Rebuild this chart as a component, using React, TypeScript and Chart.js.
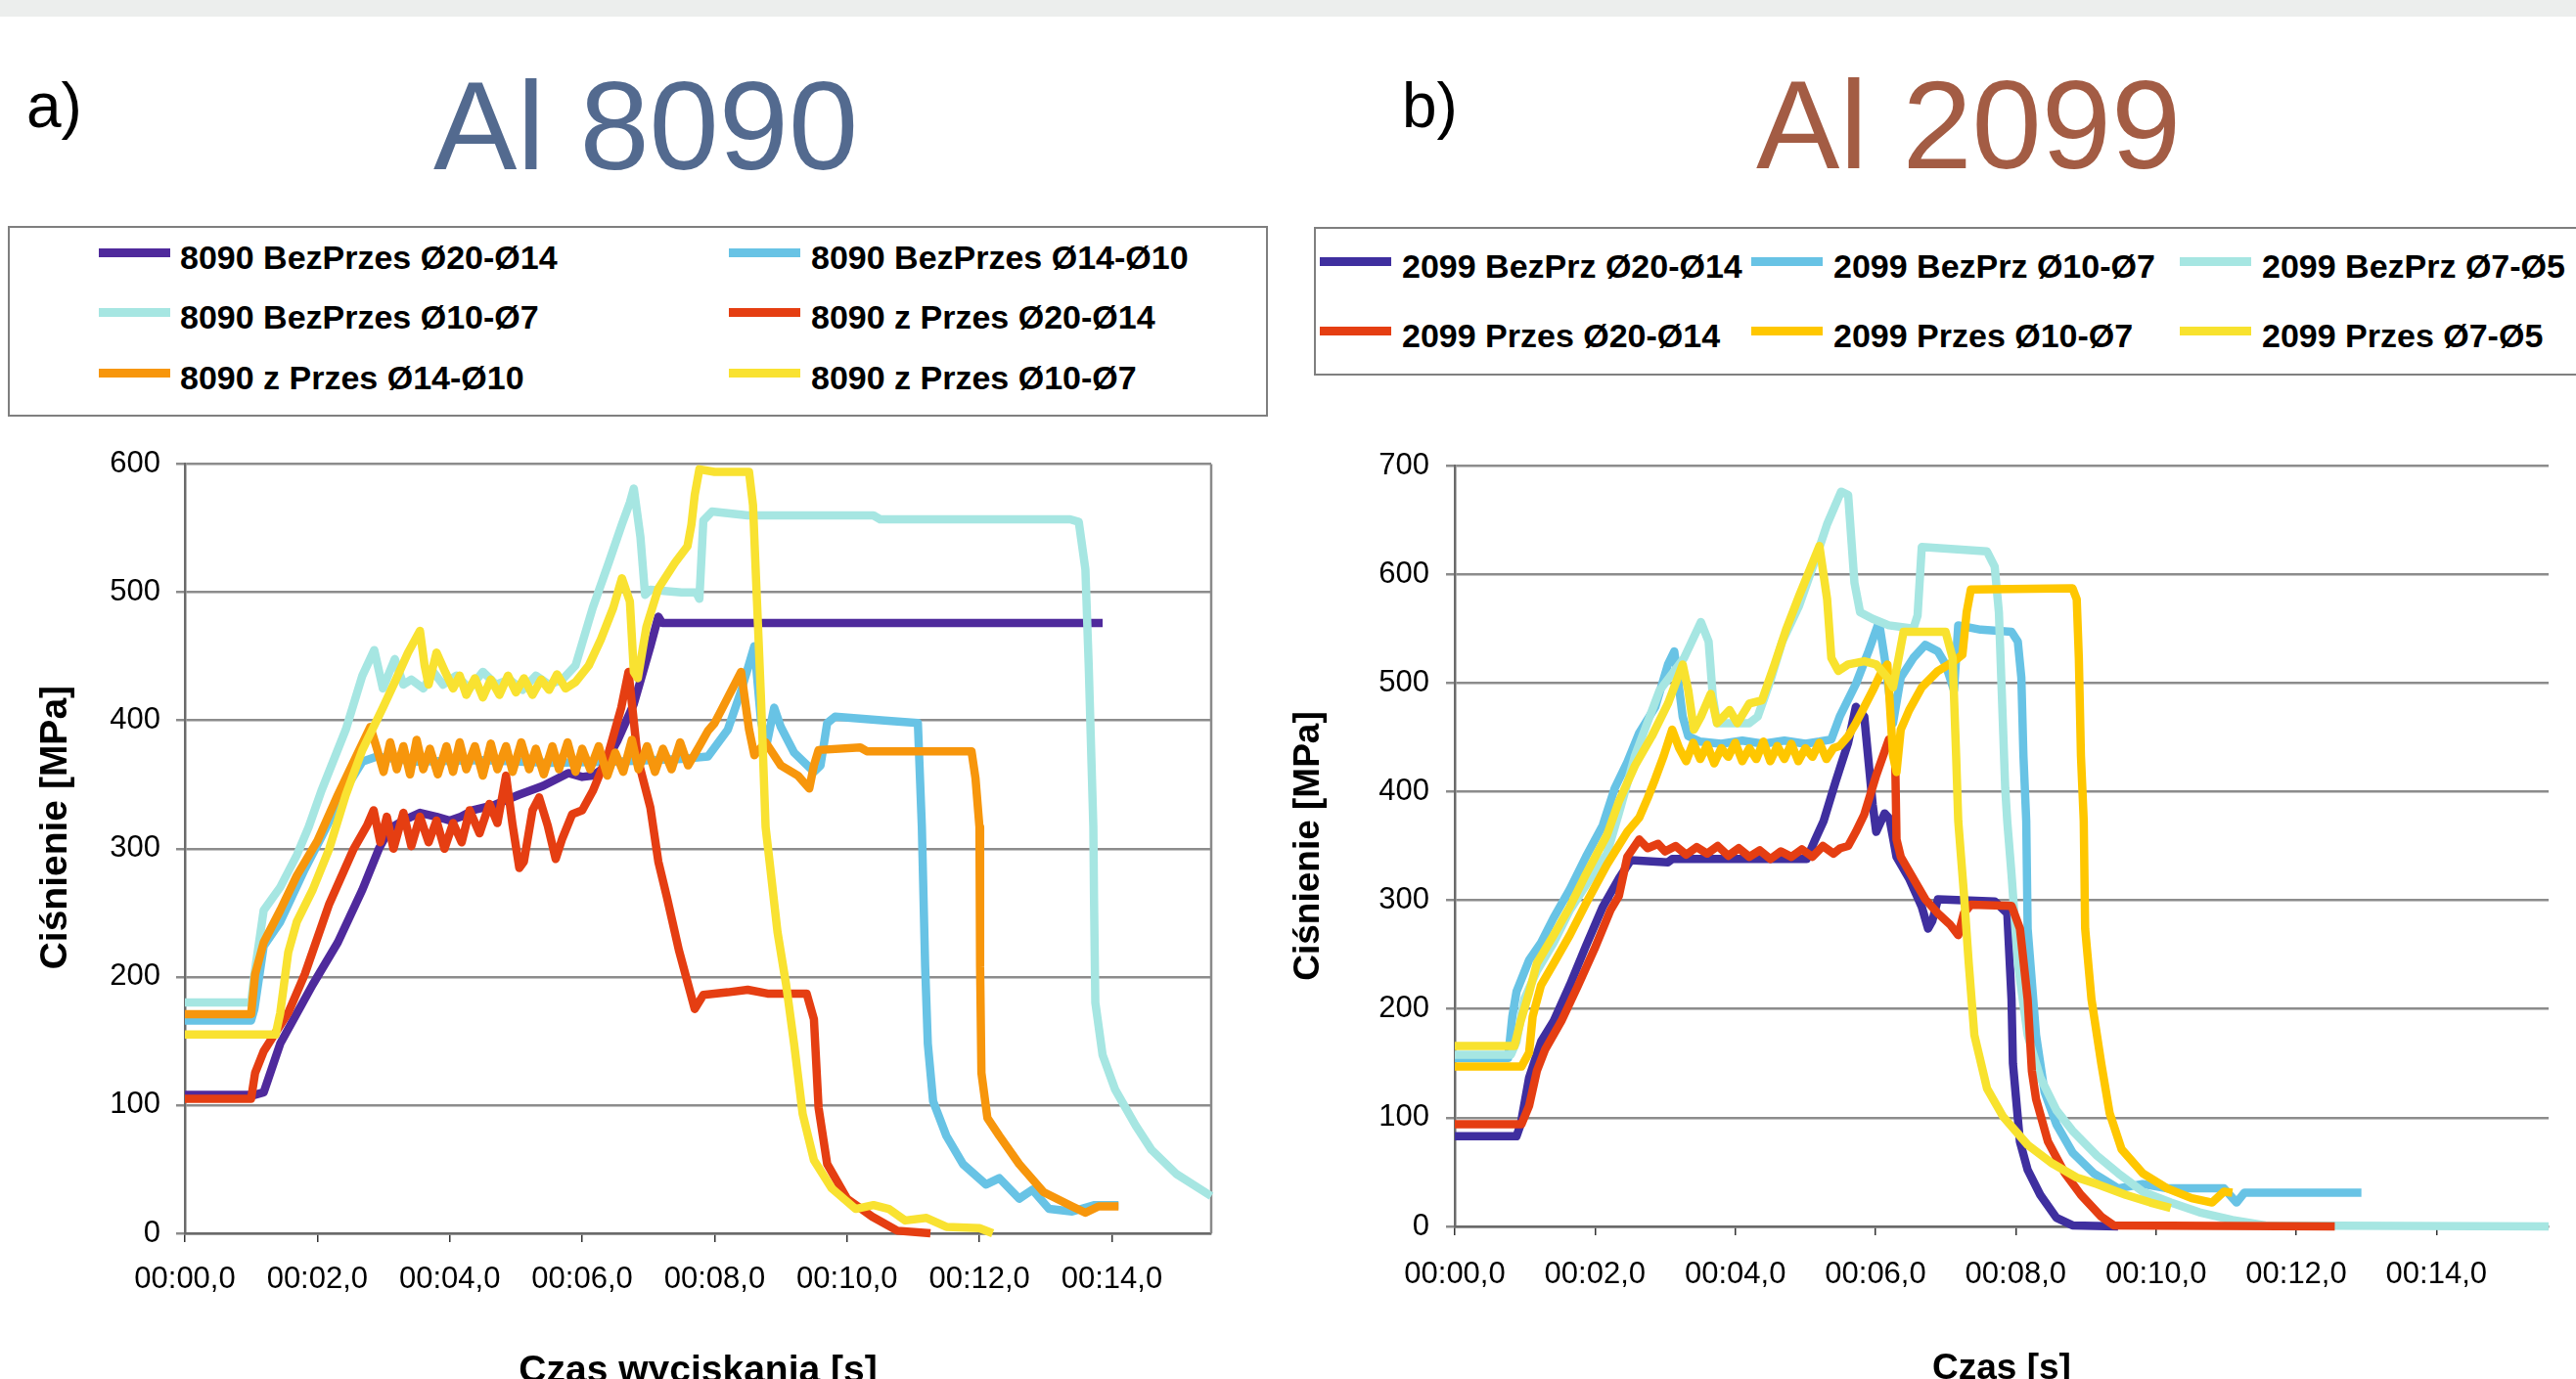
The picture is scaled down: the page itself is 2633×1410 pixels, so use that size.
import React, { useEffect, useRef } from 'react';
import { Chart, registerables } from 'chart.js';

Chart.register(...registerables);

const FONT = '"Liberation Sans", Arial, Helvetica, sans-serif';

type Pt = [number, number];

// ---------- tick labels ----------
const X_TICK_VALUES = [0, 2, 4, 6, 8, 10, 12, 14];
const X_TICK_LABELS = ['00:00,0', '00:02,0', '00:04,0', '00:06,0', '00:08,0', '00:10,0', '00:12,0', '00:14,0'];
const Y_TICKS_8090 = [0, 100, 200, 300, 400, 500, 600];
const Y_TICKS_2099 = [0, 100, 200, 300, 400, 500, 600, 700];

// ---------- Al 8090 series: [time s, pressure MPa] ----------
const S8090_BEZ_20_14: Pt[] = [
  [0, 108], [1.06, 108], [1.19, 110], [1.44, 148], [1.93, 194], [2.31, 227], [2.68, 268], [2.93, 300], [3.1, 316],
  [3.3, 322], [3.55, 328], [3.8, 325], [4.0, 322], [4.17, 325], [4.35, 330], [4.67, 334], [5.04, 342], [5.41, 349],
  [5.79, 359], [6.0, 356], [6.16, 357], [6.3, 362], [6.53, 384], [6.78, 413], [7.03, 458], [7.15, 481], [7.21, 476],
  [13.86, 476],
];
const S8090_BEZ_14_10: Pt[] = [
  [0, 166], [1.0, 166], [1.05, 175], [1.19, 224], [1.44, 243], [1.81, 284], [2.06, 309], [2.43, 347], [2.68, 368],
  [2.9, 372], [3.5, 368], [4.5, 369], [5.5, 367], [6.5, 368], [7.5, 370], [7.9, 372], [8.2, 393], [8.4, 423],
  [8.6, 458], [8.7, 400], [8.78, 380], [8.9, 410], [9.0, 395], [9.2, 375], [9.5, 360], [9.6, 365], [9.7, 398],
  [9.82, 403], [10.57, 400], [11.07, 398], [11.13, 317], [11.18, 208], [11.22, 148], [11.3, 103], [11.5, 76],
  [11.75, 54], [12.1, 38], [12.3, 43], [12.6, 27], [12.8, 34], [13.05, 19], [13.4, 17], [13.74, 22], [14.1, 22],
];
const S8090_BEZ_10_7: Pt[] = [
  [0, 180], [1.0, 180], [1.05, 202], [1.19, 252], [1.44, 270], [1.69, 295], [1.87, 317], [2.06, 345], [2.43, 393],
  [2.68, 435], [2.86, 455], [2.99, 425], [3.17, 448], [3.3, 428], [3.42, 432], [3.6, 425], [3.75, 438], [3.9, 428],
  [4.1, 435], [4.3, 425], [4.5, 438], [4.7, 428], [4.9, 432], [5.1, 424], [5.3, 435], [5.5, 428], [5.7, 432],
  [5.9, 443], [6.16, 488], [6.4, 523], [6.6, 553], [6.72, 570], [6.78, 581], [6.88, 543], [6.95, 498], [7.03, 502],
  [7.5, 500], [7.72, 500], [7.77, 495], [7.83, 556], [7.96, 563], [8.5, 560], [10.4, 560], [10.5, 557],
  [13.37, 557], [13.5, 555], [13.6, 518], [13.65, 443], [13.72, 317], [13.73, 262], [13.75, 180], [13.86, 139],
  [14.05, 112], [14.36, 84], [14.6, 65], [14.98, 46], [15.5, 29],
];
const S8090_Z_20_14: Pt[] = [
  [0, 105], [1.0, 105], [1.06, 125], [1.19, 142], [1.56, 172], [1.81, 202], [2.18, 257], [2.55, 300], [2.75, 318],
  [2.85, 330], [2.95, 305], [3.05, 325], [3.15, 300], [3.3, 328], [3.42, 302], [3.55, 325], [3.68, 305], [3.8, 322],
  [3.92, 300], [4.05, 320], [4.18, 305], [4.3, 330], [4.45, 312], [4.6, 335], [4.72, 320], [4.85, 357], [4.95, 318],
  [5.05, 285], [5.12, 290], [5.25, 330], [5.35, 340], [5.48, 318], [5.6, 292], [5.7, 308], [5.85, 327], [6.0, 330],
  [6.16, 345], [6.4, 375], [6.59, 410], [6.7, 438], [6.84, 370], [7.03, 332], [7.15, 290], [7.28, 262], [7.46, 221],
  [7.7, 175], [7.83, 186], [8.2, 188], [8.5, 190], [8.8, 187], [9.39, 187], [9.5, 167], [9.57, 98], [9.7, 54],
  [10.0, 27], [10.38, 13], [10.76, 2], [11.26, 0],
];
const S8090_Z_14_10: Pt[] = [
  [0, 171], [1.0, 171], [1.06, 202], [1.19, 227], [1.44, 252], [1.69, 279], [2.0, 306], [2.31, 342], [2.55, 368],
  [2.8, 395], [2.9, 378], [3.0, 360], [3.1, 383], [3.2, 362], [3.3, 380], [3.4, 358], [3.5, 385], [3.6, 362],
  [3.7, 378], [3.82, 358], [3.95, 380], [4.05, 360], [4.15, 383], [4.25, 362], [4.38, 380], [4.5, 357], [4.62, 382],
  [4.72, 362], [4.85, 380], [4.95, 360], [5.08, 383], [5.2, 362], [5.3, 378], [5.42, 358], [5.55, 380], [5.65, 362],
  [5.78, 383], [5.9, 360], [6.0, 378], [6.12, 362], [6.25, 380], [6.38, 357], [6.5, 375], [6.62, 360], [6.75, 385],
  [6.85, 362], [6.98, 380], [7.1, 360], [7.22, 378], [7.35, 362], [7.48, 383], [7.6, 365], [7.77, 380], [7.9, 392],
  [8.0, 398], [8.2, 418], [8.4, 438], [8.52, 393], [8.6, 373], [8.77, 383], [9.0, 365], [9.26, 357], [9.43, 347],
  [9.5, 365], [9.57, 377], [10.2, 379], [10.3, 376], [11.88, 376], [11.94, 355], [12.0, 317], [12.01, 208],
  [12.03, 125], [12.12, 90], [12.3, 76], [12.6, 54], [12.97, 32], [13.4, 21], [13.6, 16], [13.8, 21], [14.1, 21],
];
const S8090_Z_10_7: Pt[] = [
  [0, 155], [1.37, 155], [1.44, 172], [1.56, 219], [1.69, 243], [1.93, 268], [2.18, 300], [2.43, 342], [2.68, 377],
  [2.99, 410], [3.17, 430], [3.37, 453], [3.55, 470], [3.62, 443], [3.68, 428], [3.8, 453], [3.93, 438], [4.05, 425],
  [4.15, 435], [4.25, 420], [4.38, 433], [4.5, 418], [4.62, 432], [4.75, 420], [4.88, 435], [5.0, 422], [5.12, 433],
  [5.25, 420], [5.38, 432], [5.5, 424], [5.62, 436], [5.75, 425], [5.9, 430], [6.1, 443], [6.28, 463], [6.47, 488],
  [6.6, 511], [6.72, 493], [6.78, 438], [6.84, 433], [6.97, 473], [7.15, 503], [7.4, 523], [7.59, 536], [7.65, 553],
  [7.7, 576], [7.77, 596], [8.0, 594], [8.52, 594], [8.58, 568], [8.64, 493], [8.7, 418], [8.77, 317], [8.83, 290],
  [8.95, 235], [9.08, 194], [9.2, 148], [9.33, 93], [9.5, 57], [9.77, 35], [10.13, 19], [10.4, 22], [10.63, 19],
  [10.88, 10], [11.2, 12], [11.5, 5], [12.0, 4], [12.2, 0],
];

// ---------- Al 2099 series ----------
const S2099_BEZ_20_14: Pt[] = [
  [0, 83], [0.88, 83], [0.94, 94], [1.06, 137], [1.23, 170], [1.41, 189], [1.64, 222], [1.87, 258], [2.11, 294],
  [2.34, 320], [2.51, 337], [3.04, 335], [3.1, 338], [5.02, 338], [5.14, 356], [5.26, 373], [5.43, 409], [5.61, 445],
  [5.72, 478], [5.84, 469], [5.96, 388], [6.01, 363], [6.13, 380], [6.2, 375], [6.3, 340], [6.48, 320], [6.66, 294],
  [6.75, 274], [6.81, 281], [6.89, 301], [7.7, 299], [7.88, 288], [7.94, 209], [7.96, 150], [8.06, 78], [8.17, 52],
  [8.35, 29], [8.58, 8], [8.81, 1], [9.46, 0],
];
const S2099_BEZ_10_7: Pt[] = [
  [0, 155], [0.76, 155], [0.82, 193], [0.88, 216], [1.06, 245], [1.23, 261], [1.41, 284], [1.64, 310], [1.87, 340],
  [2.11, 369], [2.28, 403], [2.46, 427], [2.63, 454], [2.86, 478], [3.04, 517], [3.13, 529], [3.18, 505], [3.25, 469],
  [3.33, 451], [3.5, 446], [3.8, 444], [4.1, 447], [4.4, 444], [4.7, 447], [5.0, 444], [5.2, 446], [5.37, 448],
  [5.49, 469], [5.72, 499], [5.9, 529], [6.05, 556], [6.13, 523], [6.19, 493], [6.25, 463], [6.36, 505], [6.54, 523],
  [6.71, 535], [6.89, 529], [7.0, 517], [7.12, 493], [7.18, 553], [7.5, 549], [7.94, 547], [8.03, 538], [8.08, 505],
  [8.11, 433], [8.15, 373], [8.17, 274], [8.23, 225], [8.29, 176], [8.41, 124], [8.58, 94], [8.81, 68], [9.11, 49],
  [9.46, 35], [9.81, 39], [10.16, 35], [10.97, 35], [11.15, 22], [11.26, 31], [12.93, 31],
];
const S2099_BEZ_7_5: Pt[] = [
  [0, 158], [0.8, 158], [0.88, 170], [0.99, 209], [1.17, 235], [1.41, 261], [1.64, 291], [1.93, 320], [2.17, 343],
  [2.34, 380], [2.57, 433], [2.92, 493], [3.27, 523], [3.51, 556], [3.62, 538], [3.68, 487], [3.74, 463], [3.97, 463],
  [4.2, 463], [4.32, 469], [4.5, 502], [4.67, 538], [4.91, 571], [5.14, 613], [5.31, 646], [5.51, 676], [5.61, 673],
  [5.66, 628], [5.7, 592], [5.78, 565], [5.96, 559], [6.19, 553], [6.54, 550], [6.6, 562], [6.66, 625], [7.59, 621],
  [7.7, 607], [7.76, 565], [7.8, 493], [7.85, 403], [7.88, 372], [7.94, 324], [8.03, 242], [8.17, 176], [8.35, 137],
  [8.58, 107], [8.81, 88], [9.16, 65], [9.46, 49], [9.81, 32], [10.21, 22], [10.62, 13], [11.09, 6], [11.56, 1],
  [15.6, 0],
];
const S2099_PRZ_20_14: Pt[] = [
  [0, 94], [0.95, 94], [1.06, 111], [1.17, 143], [1.29, 163], [1.52, 189], [1.76, 222], [1.99, 255], [2.22, 291],
  [2.34, 304], [2.46, 340], [2.63, 356], [2.75, 348], [2.9, 352], [3.0, 345], [3.15, 350], [3.3, 342], [3.45, 349],
  [3.6, 343], [3.75, 350], [3.9, 341], [4.05, 348], [4.2, 340], [4.35, 346], [4.5, 338], [4.65, 345], [4.8, 340],
  [4.95, 347], [5.1, 340], [5.25, 350], [5.4, 343], [5.5, 348], [5.61, 350], [5.72, 363], [5.84, 379], [6.01, 415],
  [6.19, 448], [6.28, 433], [6.3, 356], [6.36, 340], [6.54, 320], [6.71, 301], [6.89, 288], [7.06, 278], [7.18, 268],
  [7.26, 288], [7.36, 296], [7.94, 295], [8.06, 274], [8.17, 209], [8.23, 143], [8.29, 117], [8.46, 78], [8.7, 49],
  [8.93, 29], [9.22, 9], [9.4, 1], [12.55, 0],
];
const S2099_PRZ_10_7: Pt[] = [
  [0, 147], [0.95, 147], [1.06, 160], [1.11, 193], [1.23, 222], [1.41, 242], [1.64, 268], [1.87, 297], [2.17, 333],
  [2.46, 363], [2.63, 376], [2.75, 394], [2.86, 412], [2.98, 433], [3.1, 457], [3.2, 440], [3.3, 428], [3.4, 445],
  [3.5, 430], [3.6, 443], [3.7, 426], [3.8, 440], [3.9, 432], [4.0, 445], [4.1, 428], [4.2, 440], [4.3, 430],
  [4.4, 446], [4.5, 428], [4.6, 442], [4.7, 430], [4.8, 444], [4.9, 428], [5.0, 440], [5.1, 432], [5.2, 445],
  [5.3, 430], [5.4, 440], [5.49, 442], [5.61, 451], [5.72, 463], [5.84, 478], [5.96, 493], [6.07, 508], [6.17, 517],
  [6.25, 433], [6.3, 418], [6.36, 457], [6.48, 475], [6.66, 496], [6.89, 511], [7.12, 520], [7.24, 526], [7.3, 565],
  [7.36, 586], [8.81, 587], [8.87, 577], [8.9, 523], [8.93, 433], [8.97, 373], [8.99, 274], [9.08, 209], [9.22, 150],
  [9.34, 104], [9.51, 71], [9.81, 49], [10.16, 35], [10.51, 26], [10.8, 22], [10.97, 32], [11.09, 31],
];
const S2099_PRZ_7_5: Pt[] = [
  [0, 166], [0.85, 166], [0.94, 189], [1.06, 215], [1.17, 242], [1.41, 268], [1.64, 294], [1.87, 324], [2.17, 360],
  [2.34, 391], [2.57, 424], [2.81, 451], [3.04, 481], [3.25, 517], [3.33, 493], [3.41, 457], [3.51, 469], [3.65, 490],
  [3.74, 463], [3.92, 475], [4.03, 463], [4.2, 481], [4.38, 484], [4.56, 517], [4.73, 550], [4.91, 580], [5.08, 607],
  [5.2, 626], [5.31, 577], [5.37, 523], [5.47, 511], [5.61, 517], [5.84, 520], [6.01, 517], [6.17, 505], [6.25, 496],
  [6.33, 523], [6.4, 547], [7.0, 547], [7.1, 523], [7.15, 433], [7.18, 373], [7.22, 340], [7.26, 307], [7.33, 242],
  [7.41, 176], [7.59, 127], [7.82, 101], [8.17, 75], [8.52, 58], [8.87, 45], [9.16, 39], [9.57, 29], [9.92, 22],
  [10.21, 17],
];

// ---------- series names & colours ----------
const NAMES_8090 = [
  '8090 BezPrzes Ø20-Ø14', '8090 BezPrzes Ø14-Ø10', '8090 BezPrzes Ø10-Ø7',
  '8090 z Przes Ø20-Ø14', '8090 z Przes Ø14-Ø10', '8090 z Przes Ø10-Ø7',
];
const COLORS_8090 = ['#4F2A9C', '#68C3E5', '#A6E6E2', '#E53E12', '#F7960C', '#F9E231'];
const DATA_8090 = [S8090_BEZ_20_14, S8090_BEZ_14_10, S8090_BEZ_10_7, S8090_Z_20_14, S8090_Z_14_10, S8090_Z_10_7];

const NAMES_2099 = [
  '2099 BezPrz Ø20-Ø14', '2099 BezPrz Ø10-Ø7', '2099 BezPrz Ø7-Ø5',
  '2099 Przes Ø20-Ø14', '2099 Przes Ø10-Ø7', '2099 Przes Ø7-Ø5',
];
const COLORS_2099 = ['#3F2F9F', '#68C3E5', '#A6E6E2', '#E53E12', '#FFC700', '#F8E22E'];
const DATA_2099 = [S2099_BEZ_20_14, S2099_BEZ_10_7, S2099_BEZ_7_5, S2099_PRZ_20_14, S2099_PRZ_10_7, S2099_PRZ_7_5];

interface PanelOpts {
  names: string[];
  colors: string[];
  data: Pt[][];
  yMax: number;
  yTicks: number[];
  xMax: number;
  yAxisWidth: number;
  xAxisHeight: number;
  padTop: number;
  padRight: number;
  yTitle: string;
  xTitle: string;
  yTitleSize: number;
  xTitleSize: number;
  yTitlePad: number;
  xTitlePad: number;
  xTickPad: number;
  yTickPad: number;
  frameRight: boolean;
}

function buildConfig(o: PanelOpts): any {
  const n = o.data.length;
  const frame = {
    id: 'frameRight',
    beforeDatasetsDraw(chart: any) {
      if (!o.frameRight) return;
      const a = chart.chartArea;
      const ctx = chart.ctx;
      ctx.save();
      ctx.strokeStyle = '#8a8a8a';
      ctx.lineWidth = 2.5;
      ctx.beginPath();
      ctx.moveTo(a.right, a.top);
      ctx.lineTo(a.right, a.bottom);
      ctx.stroke();
      ctx.restore();
    },
  };
  return {
    type: 'line',
    data: {
      datasets: o.data.map((pts, i) => ({
        label: o.names[i],
        data: pts.map(([x, y]) => ({ x, y })),
        borderColor: o.colors[i],
        backgroundColor: o.colors[i],
        borderWidth: 8.5,
        pointRadius: 0,
        pointHoverRadius: 0,
        tension: 0,
        fill: false,
        borderJoinStyle: 'round',
        borderCapStyle: 'butt',
        clip: false,
        order: n - i,
      })),
    },
    options: {
      responsive: false,
      animation: false,
      devicePixelRatio: 1,
      layout: { padding: { top: o.padTop, right: o.padRight, left: 0, bottom: 0 } },
      plugins: { legend: { display: false }, tooltip: { enabled: false }, title: { display: false } },
      scales: {
        x: {
          type: 'linear',
          min: 0,
          max: o.xMax,
          afterFit: (s: any) => { s.height = o.xAxisHeight; },
          afterBuildTicks: (s: any) => { s.ticks = X_TICK_VALUES.map((v) => ({ value: v })); },
          grid: { display: true, drawOnChartArea: false, drawTicks: true, tickLength: 9, color: '#333333', lineWidth: 1.5 },
          border: { display: true, color: '#6a6a6a', width: 2.5 },
          ticks: {
            autoSkip: false,
            maxRotation: 0,
            padding: o.xTickPad,
            color: '#000',
            font: { family: FONT, size: 31 },
            callback: (v: any) => {
              const idx = X_TICK_VALUES.indexOf(Number(v));
              return idx >= 0 ? X_TICK_LABELS[idx] : '';
            },
          },
          title: {
            display: true,
            text: o.xTitle,
            color: '#000',
            font: { family: FONT, size: o.xTitleSize, weight: 'bold' },
            padding: { top: 0, bottom: o.xTitlePad },
          },
        },
        y: {
          type: 'linear',
          min: 0,
          max: o.yMax,
          afterFit: (s: any) => { s.width = o.yAxisWidth; },
          afterBuildTicks: (s: any) => { s.ticks = o.yTicks.map((v) => ({ value: v })); },
          grid: { display: true, drawOnChartArea: true, drawTicks: true, tickLength: 9, color: '#8c8c8c', lineWidth: 2.5 },
          border: { display: true, color: '#6a6a6a', width: 2.5 },
          ticks: {
            padding: o.yTickPad,
            color: '#000',
            font: { family: FONT, size: 31 },
            callback: (v: any) => String(v),
          },
          title: {
            display: true,
            text: o.yTitle,
            color: '#000',
            font: { family: FONT, size: o.yTitleSize, weight: 'bold' },
            padding: { top: o.yTitlePad, bottom: 0 },
          },
        },
      },
    },
    plugins: [frame],
  };
}

function Panel({ opts, left, top, width, height }: { opts: PanelOpts; left: number; top: number; width: number; height: number }) {
  const ref = useRef<HTMLCanvasElement | null>(null);
  useEffect(() => {
    if (!ref.current) return;
    const chart = new Chart(ref.current, buildConfig(opts));
    return () => chart.destroy();
  }, []);
  return (
    <canvas
      ref={ref}
      width={width}
      height={height}
      style={{ position: 'absolute', left, top, width, height, display: 'block' }}
    />
  );
}

function Legend({ names, colors, box, cols, rows, sampleX, textX }: {
  names: string[]; colors: string[]; box: { left: number; top: number; width: number; height: number };
  cols: number; rows: number[]; sampleX: number[]; textX: number[];
}) {
  return (
    <>
      <div style={{ position: 'absolute', left: box.left, top: box.top, width: box.width, height: box.height, border: '2px solid #7f7f7f', boxSizing: 'border-box', background: '#fff' }} />
      {names.map((name, i) => {
        const r = Math.floor(i / cols);
        const c = i % cols;
        const cy = rows[r];
        return (
          <React.Fragment key={name}>
            <div style={{ position: 'absolute', left: sampleX[c], top: cy - 9, width: 73, height: 9, background: colors[i] }} />
            <div style={{ position: 'absolute', left: textX[c], top: cy - 17, fontFamily: FONT, fontWeight: 'bold', fontSize: 34, lineHeight: '34px', color: '#000', whiteSpace: 'nowrap' }}>{name}</div>
          </React.Fragment>
        );
      })}
    </>
  );
}

const textStyle = (left: number, top: number, size: number, color: string): React.CSSProperties => ({
  position: 'absolute', left, top, fontFamily: FONT, fontSize: size, lineHeight: `${size}px`, color, whiteSpace: 'nowrap',
});

export default function App() {
  const left: PanelOpts = {
    names: NAMES_8090, colors: COLORS_8090, data: DATA_8090,
    yMax: 600, yTicks: Y_TICKS_8090, xMax: 15.5,
    yAxisWidth: 189, xAxisHeight: 179, padTop: 25, padRight: 62,
    yTitle: '    Ciśnienie [MPa]', xTitle: 'Czas wyciskania [s]',
    yTitleSize: 39, xTitleSize: 39, yTitlePad: 34, xTitlePad: 14,
    xTickPad: 20, yTickPad: 16, frameRight: true,
  };
  const right: PanelOpts = {
    names: NAMES_2099, colors: COLORS_2099, data: DATA_2099,
    yMax: 700, yTicks: Y_TICKS_2099, xMax: 15.6,
    yAxisWidth: 187, xAxisHeight: 186, padTop: 36, padRight: 28,
    yTitle: 'Ciśnienie [MPa]', xTitle: 'Czas [s]',
    yTitleSize: 37, xTitleSize: 37, yTitlePad: 16, xTitlePad: 18,
    xTickPad: 22, yTickPad: 17, frameRight: false,
  };
  return (
    <div style={{ position: 'fixed', left: 0, top: 0, width: 2633, height: 1410, overflow: 'hidden', background: '#ffffff' }}>
      <div style={{ position: 'absolute', left: 0, top: 0, width: 2633, height: 17, background: '#ECEEED' }} />
      <div style={textStyle(27, 76, 64, '#000')}>a)</div>
      <div style={textStyle(443, 65, 128, '#536A8F')}>Al 8090</div>
      <div style={textStyle(1433, 76, 64, '#000')}>b)</div>
      <div style={textStyle(1795, 64, 128, '#A35C44')}>Al 2099</div>
      <Legend
        names={NAMES_8090} colors={COLORS_8090}
        box={{ left: 8, top: 231, width: 1288, height: 195 }}
        cols={2} rows={[263, 324, 386]} sampleX={[101, 745]} textX={[184, 829]}
      />
      <Legend
        names={NAMES_2099} colors={COLORS_2099}
        box={{ left: 1343, top: 232, width: 1320, height: 152 }}
        cols={3} rows={[272, 343]} sampleX={[1349, 1790, 2228]} textX={[1433, 1874, 2312]}
      />
      <Panel opts={left} left={0} top={440} width={1300} height={1000} />
      <Panel opts={right} left={1300} top={440} width={1333} height={1000} />
    </div>
  );
}
